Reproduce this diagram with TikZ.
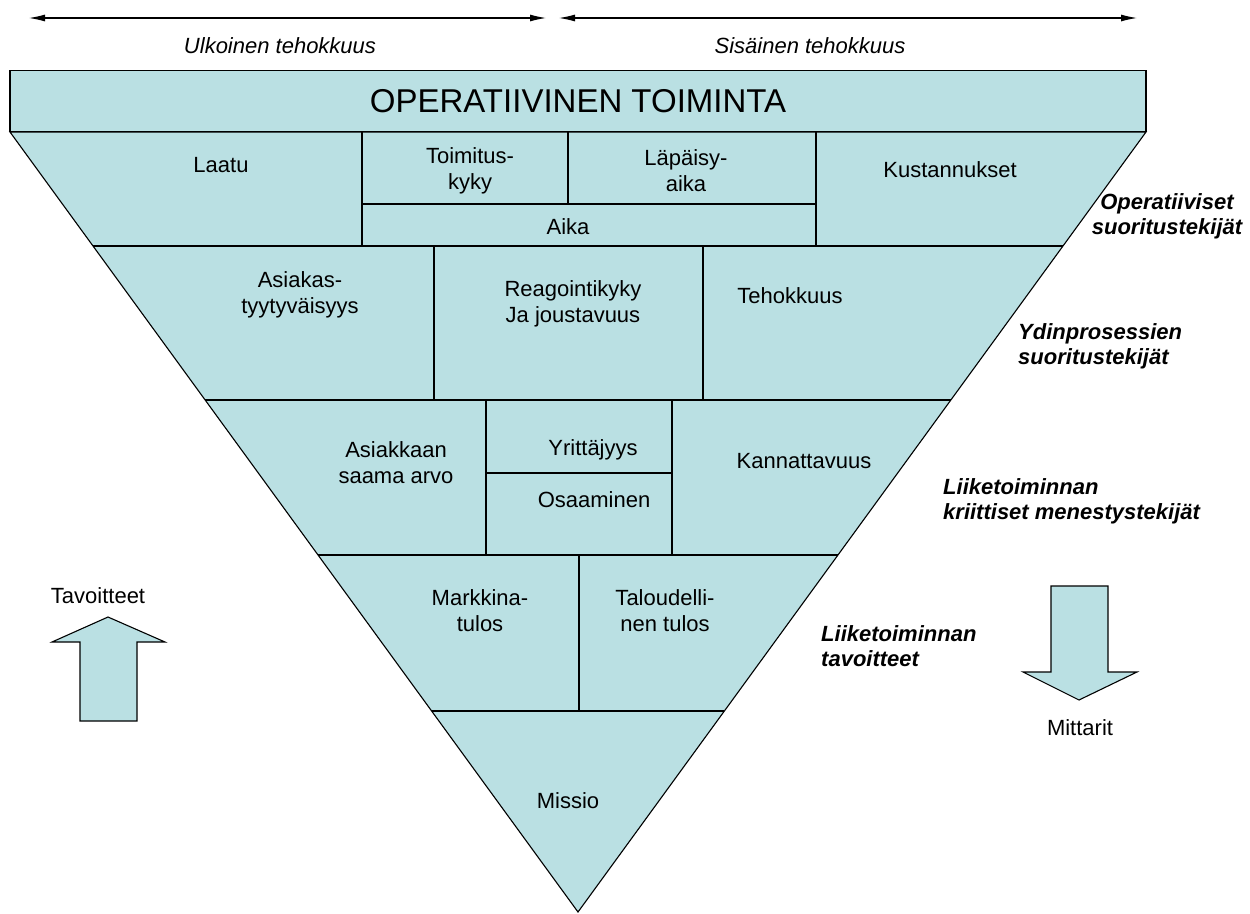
\documentclass[tikz,border=0pt]{standalone}
\usepackage{fontspec}
\setmainfont{Liberation Sans}
\usetikzlibrary{arrows.meta,calc}
\definecolor{cellfill}{RGB}{186,224,227}
\begin{document}
\begin{tikzpicture}[x=1pt,y=-1pt,
  outline/.style={draw=black,line width=1.1pt},
  lbl/.style={inner sep=0pt,align=center,font=\fontsize{22}{26}\selectfont},
  sidelbl/.style={inner sep=0pt,font=\fontsize{22}{25}\selectfont\bfseries\itshape},
  span/.style={{Latex[length=16pt,width=7pt]}-{Latex[length=16pt,width=7pt]},line width=1.1pt},
  blockarrow/.style={outline,fill=cellfill,line join=miter}]
\useasboundingbox (0,0) rectangle (1250,913);

% span arrows with their captions
\coordinate (ea) at (29,18);  \coordinate (eb) at (546,18);
\coordinate (ia) at (559,18); \coordinate (ib) at (1137,18);
\draw[span] (ea) -- (eb);
\draw[span] (ia) -- (ib);
\node[lbl,font=\fontsize{22}{26}\selectfont\itshape] (ext) at (280,46) {Ulkoinen tehokkuus};
\node[lbl,font=\fontsize{22}{26}\selectfont\itshape] (int) at (810,46) {Sisäinen tehokkuus};

% top band
\node[outline,fill=cellfill,minimum width=1136pt,minimum height=61pt,inner sep=0pt,
      font=\fontsize{33}{36}\selectfont] (ops) at (578,101) {OPERATIIVINEN TOIMINTA};

% inverted pyramid
\coordinate (tl) at (10,132);
\coordinate (tr) at (1146,132);
\coordinate (apex) at (578,912);
\draw[outline,fill=cellfill,line join=miter] (tl) -- (tr) -- (apex) -- cycle;

% level boundaries on both slanted sides
\foreach \n/\yy in {1/246,2/400,3/555,4/711}{
  \coordinate (L\n) at ($(tl)!{(\yy-132)/780}!(apex)$);
  \coordinate (R\n) at ($(tr)!{(\yy-132)/780}!(apex)$);
  \draw[outline] (L\n) -- (R\n);
}

% level 1 partitions
\draw[outline] (362,132) -- (362,246);
\draw[outline] (816,132) -- (816,246);
\draw[outline] (568,132) -- (568,204);
\draw[outline] (362,204) -- (816,204);
% level 2 partitions
\draw[outline] (434,246) -- (434,400);
\draw[outline] (703,246) -- (703,400);
% level 3 partitions
\draw[outline] (486,400) -- (486,555);
\draw[outline] (672,400) -- (672,555);
\draw[outline] (486,473) -- (672,473);
% level 4 partition
\draw[outline] (579,555) -- (579,711);

% cell texts
\node[lbl] (laatu) at (221,165) {Laatu};
\node[lbl] (toim) at (470,171) {Toimitus-\\kyky};
\node[lbl] (lapa) at (686,171) {Läpäisy-\\aika};
\node[lbl] (kust) at (950,170) {Kustannukset};
\node[lbl] (aika) at (568,227) {Aika};
\node[lbl] (asty) at (300,295) {Asiakas-\\tyytyväisyys};
\node[lbl] (reag) at (573,304) {Reagointikyky\\Ja joustavuus};
\node[lbl] (teho) at (790,296) {Tehokkuus};
\node[lbl] (asar) at (396,463) {Asiakkaan\\saama arvo};
\node[lbl] (yrit) at (593,450) {Yrittäjyys};
\node[lbl] (osaa) at (594,500) {Osaaminen};
\node[lbl] (kann) at (804,461) {Kannattavuus};
\node[lbl] (mark) at (480,611) {Markkina-\\tulos};
\node[lbl] (talo) at (665,611) {Taloudelli-\\nen tulos};
\node[lbl] (miss) at (568,801) {Missio};

% level captions on the right
\node[sidelbl,align=center] (s1) at (1167,216) {Operatiiviset\\suoritustekijät};
\node[sidelbl,align=left,anchor=west] (s2) at (1018,346) {Ydinprosessien\\suoritustekijät};
\node[sidelbl,align=left,anchor=west] (s3) at (943,501) {Liiketoiminnan\\kriittiset menestystekijät};
\node[sidelbl,align=left,anchor=west] (s4) at (821,646) {Liiketoiminnan\\tavoitteet};

% direction arrows
\node[lbl] (goal) at (98,596) {Tavoitteet};
\draw[blockarrow] (108,617) -- (165,642) -- (137,642) -- (137,721) -- (80,721) -- (80,642) -- (52,642) -- cycle;
\draw[blockarrow] (1051,586) -- (1108,586) -- (1108,672) -- (1137,672) -- (1079,700) -- (1023,672) -- (1051,672) -- cycle;
\node[lbl] (meas) at (1080,728) {Mittarit};
\end{tikzpicture}
\end{document}
